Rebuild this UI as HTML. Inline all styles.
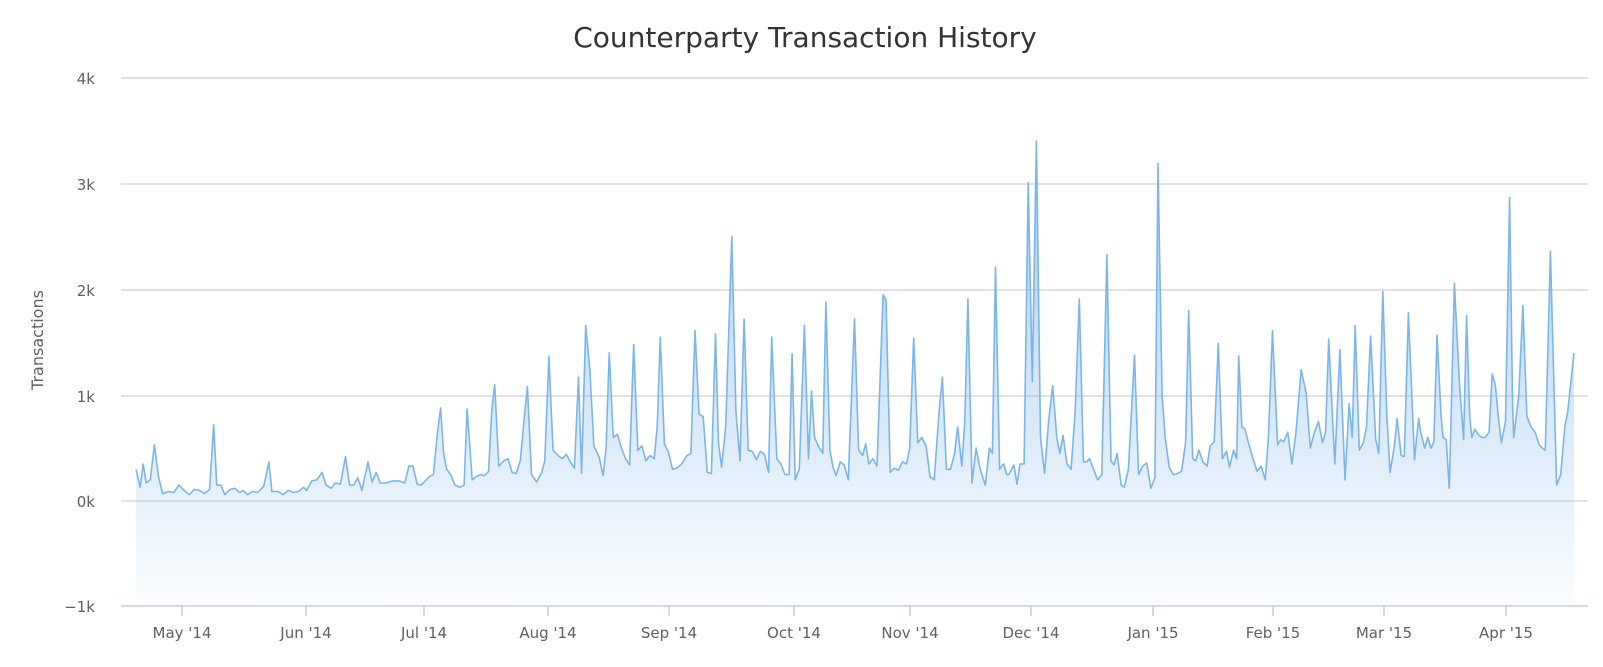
<!DOCTYPE html>
<html><head><meta charset="utf-8"><style>
html,body{margin:0;padding:0;background:#fff;width:1603px;height:667px;overflow:hidden}
svg{display:block;font-family:"DejaVu Sans","Liberation Sans",sans-serif}
</style></head><body>
<svg id="c" width="1603" height="667" xmlns="http://www.w3.org/2000/svg">
<defs><linearGradient id="g" x1="0" y1="0" x2="0" y2="1">
<stop offset="0" stop-color="#7cb5ec" stop-opacity="0.65"/>
<stop offset="0.55" stop-color="#7cb5ec" stop-opacity="0.32"/>
<stop offset="1" stop-color="#7cb5ec" stop-opacity="0.03"/>
</linearGradient></defs>
<text x="805" y="47" text-anchor="middle" font-size="28" fill="#333">Counterparty Transaction History</text>
<g stroke="#d8d8d8" stroke-width="1.5">
<line x1="121" x2="1588" y1="78" y2="78"/><line x1="121" x2="1588" y1="184" y2="184"/>
<line x1="121" x2="1588" y1="290" y2="290"/><line x1="121" x2="1588" y1="396" y2="396"/>
<line x1="121" x2="1588" y1="501" y2="501"/>
</g>
<g font-size="15" fill="#606060" text-anchor="end">
<text x="95" y="84">4k</text><text x="95" y="190">3k</text><text x="95" y="296">2k</text>
<text x="95" y="402">1k</text><text x="95" y="507">0k</text><text x="95" y="612">−1k</text>
</g>
<text transform="translate(43,340) rotate(-90)" text-anchor="middle" font-size="16" fill="#606060">Transactions</text>
<path id="area" fill="url(#g)"/>
<path id="ln" fill="none" stroke="#7cb5ec" stroke-width="1.6" stroke-linejoin="round"/>
<line x1="121" x2="1588" y1="606" y2="606" stroke="#c0d0e0" stroke-width="1.5"/>
<g id="ticks" stroke="#c0d0e0" stroke-width="1.5"></g>
<g id="xl" font-size="15" fill="#606060" text-anchor="middle"></g>
</svg>
<script>
var k=[133,300,137,130,140,350,143,170,147,200,151,530,155,230,159,70,165,90,170,80,175,150,180,100,185,60,190,110,195,100,200,70,205,110,209,720,212,150,216,150,220,60,225,110,230,120,234,80,238,100,242,60,247,90,252,80,258,140,263,370,266,90,272,90,277,60,282,100,287,80,292,90,297,130,300,100,305,190,310,200,315,270,319,150,324,120,328,170,333,160,338,420,342,150,346,150,350,220,354,100,360,370,364,180,368,270,372,170,378,170,384,190,390,190,396,170,400,330,404,330,408,160,412,150,416,190,420,230,424,250,428,650,431,880,434,450,437,300,441,250,445,150,450,130,454,150,457,870,462,200,466,230,470,250,474,240,478,280,481,850,484,1100,488,330,493,380,497,400,501,270,505,260,509,380,513,800,516,1080,520,250,525,180,530,270,533,380,537,1370,541,480,546,430,550,400,554,440,558,370,562,310,566,1170,569,260,573,1660,577,1250,581,520,586,420,590,240,593,500,596,1400,600,600,604,630,608,500,612,400,616,340,620,1480,624,480,628,520,632,380,636,430,640,400,643,700,646,1550,650,540,654,460,658,300,662,310,667,350,672,430,676,450,680,1610,684,820,688,800,692,270,696,260,700,1580,703,550,706,320,710,700,716,2500,720,850,724,380,728,1720,732,480,736,470,740,390,744,470,748,440,752,270,755,1550,760,400,764,350,768,250,772,250,775,1390,778,200,782,300,787,1660,791,400,794,1040,797,600,801,510,805,450,808,1880,812,480,815,320,818,240,822,370,826,340,830,200,836,1720,840,480,844,430,847,540,850,350,854,400,858,330,864,1950,867,1900,871,270,875,310,879,290,883,370,887,350,890,500,894,1540,898,550,902,600,906,520,910,230,914,200,919,870,922,1170,926,300,930,300,934,450,937,700,941,330,944,750,947,1910,951,170,955,500,959,300,964,150,968,500,971,450,974,2210,978,300,982,350,985,250,987,250,992,340,995,160,998,350,1002,350,1006,3010,1010,1130,1014,3400,1018,600,1022,260,1026,750,1030,1090,1034,600,1037,450,1040,620,1044,350,1048,300,1052,850,1056,1910,1060,370,1063,370,1066,400,1070,300,1074,200,1078,250,1083,2330,1087,380,1090,340,1093,450,1097,150,1100,130,1104,300,1110,1380,1114,250,1118,330,1122,360,1126,120,1130,220,1133,3190,1137,1000,1140,600,1144,320,1148,250,1152,260,1156,280,1160,550,1163,1800,1167,400,1170,380,1173,480,1177,370,1181,330,1184,520,1188,560,1192,1490,1196,400,1200,470,1203,320,1207,480,1210,400,1212,1370,1215,700,1218,680,1222,530,1226,400,1230,280,1234,330,1238,200,1241,600,1245,1610,1250,530,1253,580,1256,560,1260,650,1264,350,1268,650,1273,1240,1278,1020,1282,500,1286,650,1290,750,1294,550,1297,650,1300,1530,1306,350,1311,1430,1316,200,1320,920,1323,600,1326,1660,1330,480,1334,550,1337,700,1341,1560,1346,580,1349,450,1353,1980,1357,800,1360,270,1364,500,1367,780,1371,430,1374,420,1378,1780,1384,390,1388,780,1390,650,1394,500,1397,600,1400,500,1403,560,1406,1570,1410,800,1412,600,1415,580,1418,120,1423,2060,1428,1100,1432,580,1435,1750,1438,800,1440,600,1443,680,1447,620,1450,600,1453,600,1457,650,1460,1200,1463,1100,1466,800,1469,550,1473,750,1477,2870,1480,900,1481,600,1486,1000,1490,1850,1494,800,1498,700,1502,650,1506,530,1509,500,1512,480,1517,2360,1523,150,1527,250,1531,700,1534,850,1540,1400];
function X(x){return 136+(x-133)*1.022}
function Y(v){return 501-v*0.1058}
var d="";for(var i=0;i<k.length;i+=2){d+=(i?"L":"M")+X(k[i]).toFixed(1)+","+Y(k[i+1]).toFixed(1)}
document.getElementById("ln").setAttribute("d",d);
document.getElementById("area").setAttribute("d",d+"L"+X(1540).toFixed(1)+",606L"+X(133).toFixed(1)+",606Z");
var ms=[["May '14",182],["Jun '14",306],["Jul '14",424],["Aug '14",548],["Sep '14",669],["Oct '14",794],["Nov '14",910],["Dec '14",1031],["Jan '15",1153],["Feb '15",1273],["Mar '15",1384],["Apr '15",1506]];
var t="",l="";ms.forEach(function(m){t+='<line x1="'+m[1]+'" x2="'+m[1]+'" y1="606" y2="616"/>';l+='<text x="'+m[1]+'" y="638">'+m[0]+'</text>'});
document.getElementById("ticks").innerHTML=t;document.getElementById("xl").innerHTML=l;
</script>
</body></html>
